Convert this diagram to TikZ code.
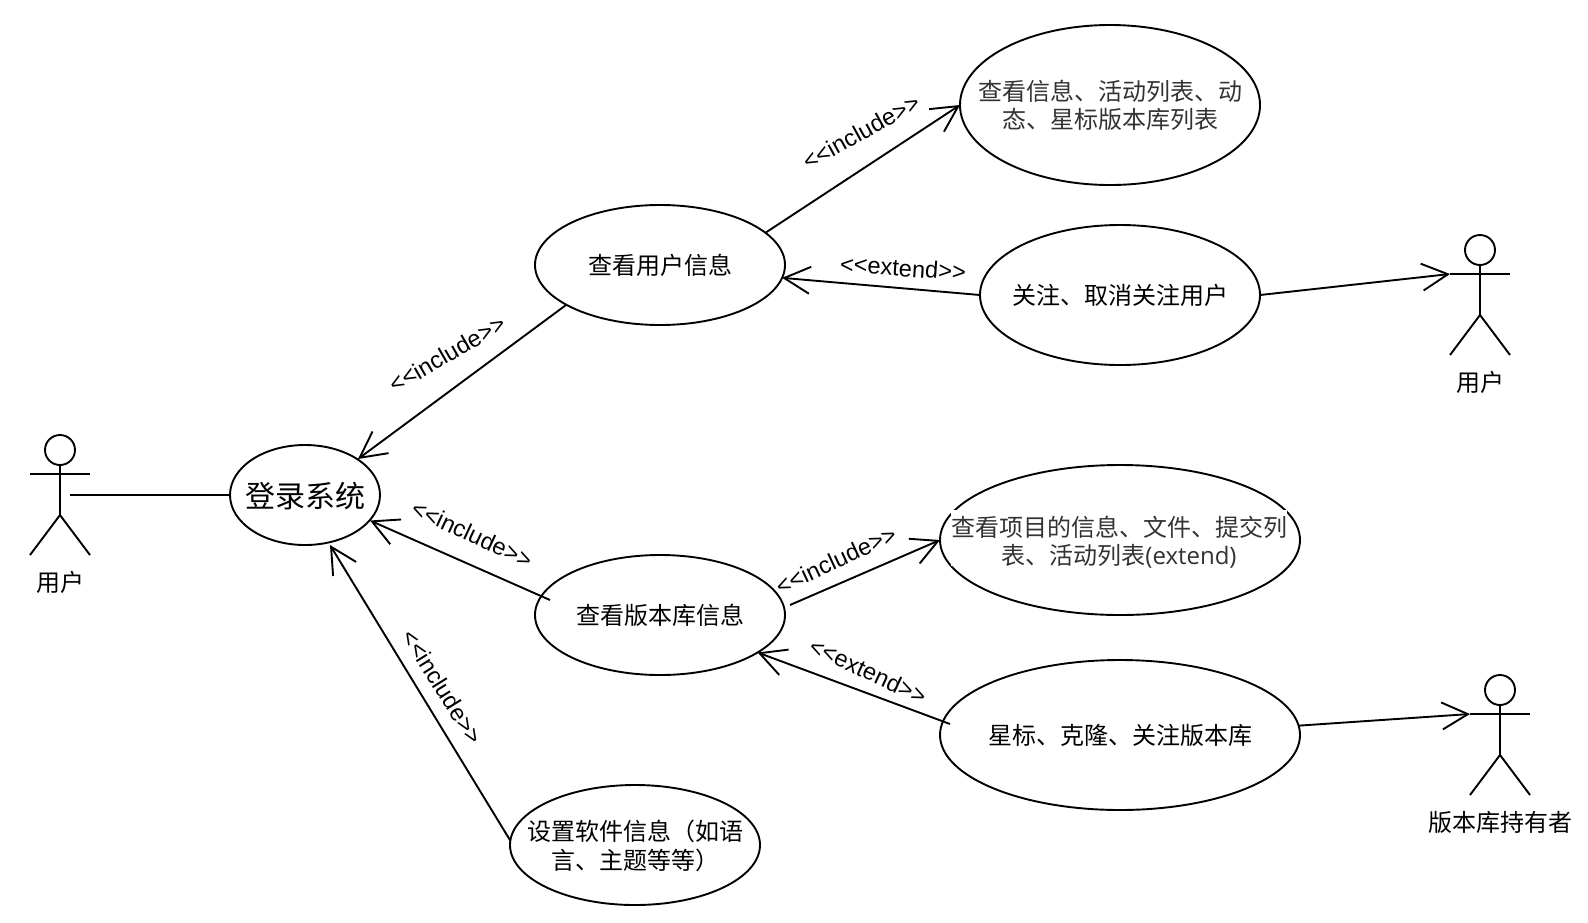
\documentclass[tikz,border=0pt]{standalone}
\usepackage{fontspec}
\usetikzlibrary{shapes.geometric,arrows.meta}
\setmainfont{Noto Sans CJK SC}
\newfontfamily\latinlabel{Liberation Sans}
\newfontfamily\opensans{Open Sans}
\newcommand{\casetext}[2][24]{\raisebox{-9.8pt}[0pt][0pt]{\makebox[0pt]{\fontsize{#1}{28}\selectfont\begin{tabular}{@{}c@{}}#2\end{tabular}}}}
\newcommand{\actorfig}[4]{% name, x, y(head), label
  \node[actorhead] (#1head) at (#2,#3) {};
  \coordinate (#1hip) at (#2,#3+65);
  \coordinate (#1hand) at (#2-30,#3+24);
  \coordinate (#1handr) at (#2+30,#3+24);
  \coordinate (#1footl) at (#2-30,#3+105);
  \coordinate (#1footr) at (#2+30,#3+105);
  \draw[conn] (#1head.south) -- (#1hip);
  \draw[conn] (#1hand) -- (#1handr);
  \draw[conn] (#1footl) -- (#1hip) -- (#1footr);
  \node[actorlabel] (#1label) at (#2+.5,#3+132) {#4};
}
\tikzset{
  conn/.style={line width=1.9pt,black},
  arr/.style={conn,-{Straight Barb[length=26pt,width=27pt,line width=1.9pt]}},
  usecase/.style={ellipse,draw,line width=1.9pt,inner sep=0pt,outer sep=0pt},
  actorhead/.style={circle,draw,line width=1.9pt,minimum size=30pt,inner sep=0pt,outer sep=0pt},
  actorlabel/.style={font=\fontsize{24}{28}\selectfont,inner sep=0pt},
  rel/.style={font=\latinlabel\fontsize{23.6}{28}\selectfont,inner sep=0pt},
}
\definecolor{greytext}{HTML}{333333}
\begin{document}
\begin{tikzpicture}[x=1pt,y=-1pt]
\useasboundingbox[fill=white] (0,0) rectangle (1588,922);
% use cases
\node[usecase,minimum width=150pt,minimum height=100pt] (login) at (305,495) {\casetext[30]{登录系统}};
\node[usecase,minimum width=250pt,minimum height=120pt] (A) at (660,265) {\casetext{查看用户信息}};
\node[usecase,minimum width=300pt,minimum height=160pt,text=greytext] (B) at (1110,105) {\casetext{查看信息、活动列表、动\\态、星标版本库列表}};
\node[usecase,minimum width=280pt,minimum height=140pt] (C) at (1120,295) {\casetext{关注、取消关注用户}};
\node[usecase,minimum width=250pt,minimum height=120pt] (D) at (660,615) {\casetext{查看版本库信息}};
\node[usecase,minimum width=360pt,minimum height=150pt] (E) at (1120,540) {};
\node[fill=white,inner sep=0pt,minimum width=336pt,minimum height=56pt] (Ebg) at (1119,538) {};
\node[text=greytext,inner sep=0pt,align=center,font=\fontsize{24}{28}\selectfont] (Etext) at (1119,542) {查看项目的信息、文件、提交列\\表、活动列表{\opensans(extend)}};
\node[usecase,minimum width=360pt,minimum height=150pt] (F) at (1120,735) {\casetext{星标、克隆、关注版本库}};
\node[usecase,minimum width=250pt,minimum height=120pt] (G) at (635,845) {\casetext{设置软件信息（如语\\言、主题等等）}};
% actors
\actorfig{leftuser}{60}{450}{用户}
\actorfig{rightuser}{1480}{250}{用户}
\actorfig{owner}{1500}{690}{版本库持有者}
% free ends
\coordinate (leftuserend) at (70,495);
\coordinate (dOut) at (790,605);
\coordinate (dIn) at (550,600);
\coordinate (fIn) at (950,724);
\coordinate (loginBelow) at (330,545);
\coordinate (loginUpper) at (358,459);
\coordinate (loginRight) at (370,520.5);
% connectors
\draw[conn] (leftuserend) -- (login.180);
\draw[arr] (A.203.6) -- (loginUpper);
\draw[arr] (A.17) -- (B.180);
\draw[arr] (C.180) -- (A.-6);
\draw[arr] (C.0) -- (rightuserhand);
\draw[arr] (dIn) -- (loginRight);
\draw[arr] (dOut) -- (E.180);
\draw[arr] (fIn) -- (D.-21.5);
\draw[arr] (F.3.2) -- (ownerhand);
\draw[arr] (G.178) -- (loginBelow);
% labels
\node[rel,rotate=29] (l1) at (861,132) {<<include>>};
\node[rel,rotate=-4] (l2) at (903,268) {<<extend>>};
\node[rel,rotate=30] (l3) at (447,354) {<<include>>};
\node[rel,rotate=-25] (l4) at (472,534) {<<include>>};
\node[rel,rotate=25] (l5) at (836,560) {<<include>>};
\node[rel,rotate=-25] (l6) at (868,671) {<<extend>>};
\node[rel,rotate=-58] (l7) at (442.5,687) {<<include>>};
\end{tikzpicture}
\end{document}
